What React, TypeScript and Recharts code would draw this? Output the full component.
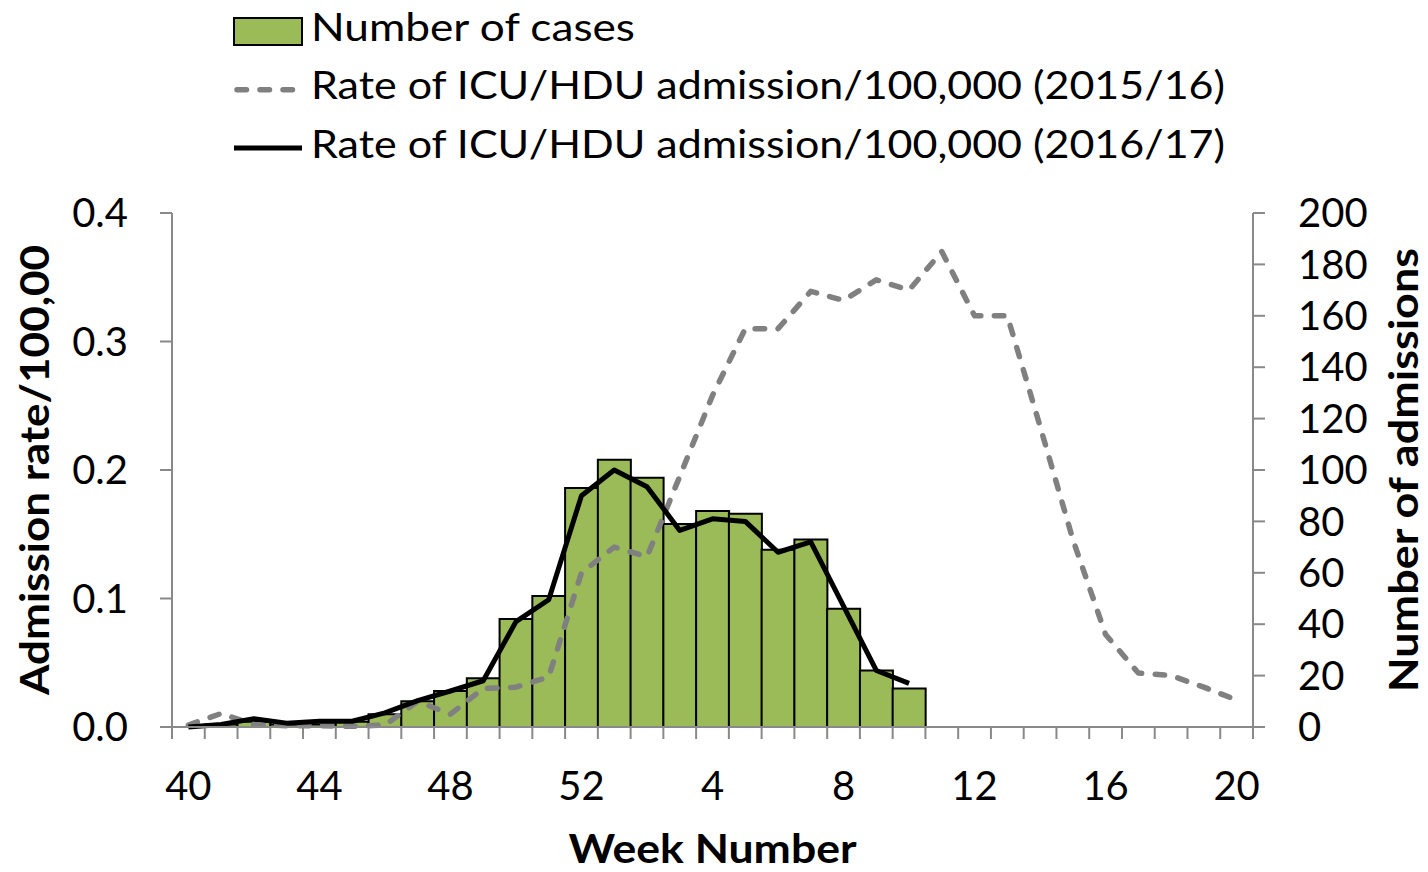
import React from "react";
import { ComposedChart, Bar, Line, XAxis, YAxis, Legend } from "recharts";

// week numbers, season runs from week 40 to week 20
const weeks = [40, 41, 42, 43, 44, 45, 46, 47, 48, 49, 50, 51, 52, 1, 2, 3, 4, 5, 6, 7, 8, 9, 10, 11, 12, 13, 14, 15, 16, 17, 18, 19, 20];

// number of ICU/HDU admissions 2016/17 (right axis)
const cases = [0, 1, 2, 1, 1, 2, 5, 10, 14, 19, 42, 51, 93, 104, 97, 79, 84, 83, 69, 73, 46, 22, 15, null, null, null, null, null, null, null, null, null, null];

// admission rate / 100,000 (left axis)
const rate201516 = [0.0015, 0.0105, 0.002, 0.001, 0.001, 0.0005, 0.0015, 0.02, 0.01, 0.03, 0.031, 0.039, 0.12, 0.14, 0.1325, 0.195, 0.258, 0.31, 0.31, 0.339, 0.332, 0.348, 0.34, 0.37, 0.32, 0.32, 0.234, 0.146, 0.072, 0.042, 0.04, 0.031, 0.021];
const rate201617 = [0, 0.002, 0.0065, 0.003, 0.0045, 0.0045, 0.011, 0.0205, 0.028, 0.036, 0.082, 0.099, 0.18, 0.2, 0.187, 0.153, 0.162, 0.16, 0.136, 0.144, 0.094, 0.044, 0.034, null, null, null, null, null, null, null, null, null, null];

const rateTicks = [0, 0.1, 0.2, 0.3, 0.4];
const countTicks = [0, 20, 40, 60, 80, 100, 120, 140, 160, 180, 200];

const chartData = weeks.map((w, i) => ({
  week: String(w),
  cases: cases[i],
  r1516: rate201516[i],
  r1617: rate201617[i],
}));

const W = 1428;
const H = 872;
const LEFT_W = 172;
const RIGHT_W = 175;
const TOP = 213;
const X_H = 145;
const PLOT_W = W - LEFT_W - RIGHT_W;
const BAND = PLOT_W / weeks.length;

const AXIS_GREY = "#898989";
const GREEN = "#9BBB59";
const DASH_GREY = "#808080";
const DASH = "9.5 13.5";
const FONT = "Lato, 'Open Sans', sans-serif";

function WeekTick(props: any) {
  const { x, y, payload, index } = props;
  const half = BAND / 2;
  return (
    <g>
      <line x1={x - half} x2={x - half} y1={y} y2={y + 12} stroke={AXIS_GREY} strokeWidth={2} />
      {index === weeks.length - 1 && (
        <line x1={x + half} x2={x + half} y1={y} y2={y + 12} stroke={AXIS_GREY} strokeWidth={2} />
      )}
      {index % 4 === 0 && (
        <text x={x} y={y + 45} dy="0.71em" textAnchor="middle" fontSize={40} fill="#000">
          {payload.value}
        </text>
      )}
    </g>
  );
}

function SideTitle({ viewBox, text, baseX, length }: any) {
  const cy = viewBox ? viewBox.y + viewBox.height / 2 : TOP + 257;
  return (
    <text
      x={baseX}
      y={cy}
      transform={`rotate(-90 ${baseX} ${cy})`}
      textAnchor="middle"
      fontSize={40}
      fontWeight={700}
      fill="#000"
      textLength={length}
      lengthAdjust="spacingAndGlyphs"
    >
      {text}
    </text>
  );
}

function BottomTitle({ viewBox }: any) {
  const cx = viewBox ? viewBox.x + viewBox.width / 2 : LEFT_W + PLOT_W / 2;
  return (
    <text x={cx} y={H - 9} textAnchor="middle" fontSize={40} fontWeight={700} fill="#000" textLength={288} lengthAdjust="spacingAndGlyphs">
      Week Number
    </text>
  );
}

function LegendBox({ payload }: any) {
  const rows = (payload ?? []) as any[];
  return (
    <svg width={W} height={180} style={{ display: "block", fontFamily: FONT }}>
      {rows.map((item, i) => {
        const cy = 31.5 + i * 58.3;
        let icon;
        if (item.dataKey === "cases") {
          icon = <rect x={234} y={cy - 13.5} width={68} height={27} fill={GREEN} stroke="#000" strokeWidth={2} />;
        } else if (item.dataKey === "r1516") {
          icon = <line x1={237} x2={300} y1={cy} y2={cy} stroke={DASH_GREY} strokeWidth={5.5} strokeDasharray={DASH} strokeLinecap="round" />;
        } else {
          icon = <line x1={234} x2={302} y1={cy} y2={cy} stroke="#000" strokeWidth={5} />;
        }
        return (
          <g key={item.dataKey}>
            {icon}
            <text
              x={311}
              y={cy + 9.5}
              fontSize={39}
              fill="#000"
              textLength={item.dataKey === "cases" ? 324 : 914}
              lengthAdjust="spacingAndGlyphs"
            >
              {item.value}
            </text>
          </g>
        );
      })}
    </svg>
  );
}

export default function App() {
  return (
    <div style={{ position: "absolute", left: 0, top: 0, width: W, height: H, background: "#fff", fontFamily: FONT }}>
      <ComposedChart
        width={W}
        height={H}
        data={chartData}
        margin={{ top: TOP, right: 0, bottom: 0, left: 0 }}
        barCategoryGap={0}
        barGap={0}
      >
        <XAxis
          dataKey="week"
          height={X_H}
          interval={0}
          tickSize={0}
          tickMargin={0}
          tickLine={false}
          axisLine={{ stroke: AXIS_GREY, strokeWidth: 2 }}
          tick={(p: any) => <WeekTick {...p} />}
          label={<BottomTitle />}
        />
        <YAxis
          yAxisId="rate"
          orientation="left"
          width={LEFT_W}
          domain={[0, 0.4]}
          ticks={rateTicks}
          interval={0}
          tickFormatter={(v: number) => v.toFixed(1)}
          tickSize={12}
          tickMargin={32}
          axisLine={{ stroke: AXIS_GREY, strokeWidth: 2 }}
          tickLine={{ stroke: AXIS_GREY, strokeWidth: 2 }}
          tick={{ fill: "#000", fontSize: 40 }}
          label={<SideTitle text="Admission rate/100,00" baseX={49} length={450} />}
        />
        <YAxis
          yAxisId="count"
          orientation="right"
          width={RIGHT_W}
          domain={[0, 200]}
          ticks={countTicks}
          interval={0}
          tickSize={12}
          tickMargin={33}
          axisLine={{ stroke: AXIS_GREY, strokeWidth: 2 }}
          tickLine={{ stroke: AXIS_GREY, strokeWidth: 2 }}
          tick={{ fill: "#000", fontSize: 40 }}
          label={<SideTitle text="Number of admissions" baseX={1418} length={444} />}
        />
        <Legend
          layout="vertical"
          align="center"
          verticalAlign="middle"
          wrapperStyle={{ top: 0, left: 0, width: W, height: 180 }}
          content={(p: any) => <LegendBox {...p} />}
        />
        <Bar
          yAxisId="count"
          dataKey="cases"
          name="Number of cases"
          fill={GREEN}
          stroke="#000"
          strokeWidth={2}
          isAnimationActive={false}
        />
        <Line
          yAxisId="rate"
          type="linear"
          dataKey="r1516"
          name="Rate of ICU/HDU admission/100,000 (2015/16)"
          stroke={DASH_GREY}
          strokeWidth={5.5}
          strokeDasharray={DASH}
          strokeLinecap="round"
          strokeLinejoin="round"
          dot={false}
          activeDot={false}
          isAnimationActive={false}
        />
        <Line
          yAxisId="rate"
          type="linear"
          dataKey="r1617"
          name="Rate of ICU/HDU admission/100,000 (2016/17)"
          stroke="#000"
          strokeWidth={5}
          strokeLinejoin="round"
          dot={false}
          activeDot={false}
          isAnimationActive={false}
        />
      </ComposedChart>
    </div>
  );
}
